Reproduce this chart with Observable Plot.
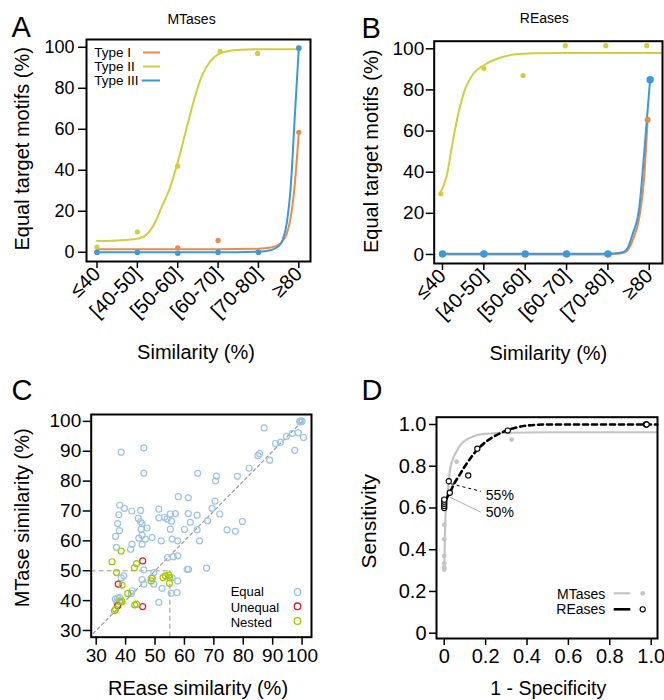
<!DOCTYPE html>
<html><head><meta charset="utf-8">
<script src="https://cdn.jsdelivr.net/npm/d3@7"></script>
<script src="https://cdn.jsdelivr.net/npm/@observablehq/plot@0.6"></script>
<style>
body{margin:0;background:#fff;}
#wrap{position:relative;width:664px;height:700px;overflow:hidden;font-family:"Liberation Sans",Arial,Helvetica,sans-serif;}
.panel{position:absolute;}
#overlay{position:absolute;left:0;top:0;}
</style></head><body><div id="wrap"></div>
<script>
const FONT = '"Liberation Sans", Arial, Helvetica, sans-serif';

// ---------- shared ----------
const simBins = ["≤40","[40-50]","[50-60]","[60-70]","[70-80]","≥80"];
const binIndex = [0,1,2,3,4,5];
const pctTicks = [0,20,40,60,80,100];
const typeNames = ["Type I","Type II","Type III"];
const typeColors = ["#ec8a4c","#d6cc3e","#3a9ad9"];

// ---------- Panel A: MTases (bin position, % equal target motifs) ----------
const aType1Pts = [[0,0],[1,0],[2,2.2],[3,5.8],[4,0],[5,58.5]];
const aType2Pts = [[0,2.5],[1,10],[2,42],[3.05,98],[3.98,97],[5,100]];
const aType3Pts = [[0,0],[1,0],[2,-0.5],[3,0],[4,0],[5,99.5]];
const aType1Fit = [[0,1.5],[1,1.5],[2,1.5],[3,1.5],[4,1.7],[4.3,2.3],[4.5,3.6],[4.6,5.5],[4.7,9],[4.8,17],[4.9,33],[5,58.5]];
const aType2Fit = [[0,5.5],[0.5,5.8],[1,6.6],[1.25,9],[1.45,15],[1.6,22],[1.8,31],[2,44],[2.2,59],[2.4,74],[2.6,86],[2.8,93],[3,96.5],[3.3,98.3],[3.7,98.9],[4,99],[5,99]];
const aType3Fit = [[0,0],[1,0],[2,0],[3,0],[4,0.3],[4.3,1],[4.5,3],[4.6,6],[4.7,14],[4.8,32],[4.9,66],[5,99.5]];

// ---------- Panel B: REases ----------
const bType1Pts = [[0,0],[1,0],[2,0],[3,0],[4,0],[4.96,65.5]];
const bType2Pts = [[-0.04,29.5],[1,90.5],[1.95,87],[2.97,101.5],[3.95,101.5],[4.94,101.5]];
const bType3Pts = [[0,0.3],[1,0.3],[2,0.3],[3,0.3],[4,0.3],[5.02,85]];
const bType1Fit = [[0,0],[1,0],[2,0],[3,0],[4,0],[4.3,0.4],[4.45,1.5],[4.6,7],[4.76,18],[4.88,38],[4.96,65.5]];
const bType2Fit = [[-0.05,30],[0.1,38],[0.25,55],[0.4,70],[0.56,81],[0.75,88],[1,92],[1.37,95.5],[1.77,97.3],[2.2,97.8],[3,98],[5.32,98]];
const bType3Fit = [[0,0.3],[1,0.3],[2,0.3],[3,0.3],[4,0.3],[4.3,0.8],[4.44,2],[4.6,10],[4.76,23],[4.88,50],[5.02,85]];

// ---------- Panel C: REase vs MTase similarity ----------
const cEqual = [[99.2,100],[99.6,100.2],[100,100],[99.4,99.8],
 [87.1,97.8],[94.7,95.0],[96.7,96.0],[98.7,96.2],[100.5,94.6],[91.0,92.6],[92.6,93.0],[97.5,90.3],[85.6,89.2],[85.0,88.5],[89.0,87.0],[82.0,84.3],[78.0,81.6],[70.9,81.7],[70.6,80.1],[64.5,82.6],[70.4,73.3],[69.4,70.9],[72.0,69.0],[67.9,66.7],[79.7,66.5],[74.5,63.7],[77.3,63.2],[67.5,50.9],
 [38.5,89.7],[46.2,91.1],[46.2,82.7],[57.9,74.8],[61.3,74.4],[38.0,72.0],[39.6,70.9],[37.7,68.7],[42.1,70.0],[45.1,70.2],[51.3,70.6],[55.2,69.0],[56.9,69.1],[61.3,69.1],[64.3,68.6],[44.3,67.5],[51.3,67.7],[53.2,67.9],[54.1,67.3],[55.6,66.6],[62.0,66.2],[45.1,66.4],[37.3,65.8],[45.6,65.8],
 [37.9,63.4],[36.6,61.5],[45.3,63.9],[47.3,64.3],[45.6,61.9],[44.5,60.9],[46.7,60.6],[49.0,61.1],[52.1,60.0],[55.8,60.6],[57.7,60.0],[60.0,63.8],[64.3,63.7],[65.1,60.0],[55.2,63.9],[42.2,58.9],[36.9,57.8],[41.7,57.2],[45.6,58.9],[54.3,54.4],[56.2,54.7],[57.7,55.0],[60.9,50.5],[61.4,50.5],[49.6,49.4],[46.2,50.3],[45.6,47.0],[39.4,48.3],[38.5,47.6],[49.0,47.7],[46.2,45.5],[49.6,45.5],[52.4,44.1],[55.5,42.5],[57.5,42.7],[57.7,46.6],[55.8,47.7],[42.2,43.3],[51.3,39.4],[41.9,42.4],[36.5,40.5],[37.3,40.8],[38.0,41.0],[38.5,40.2],[37.0,39.5],[38.0,39.8]];
const cUnequal = [[45.8,53.3],[37.5,45.5],[45.8,38.0],[37.3,38.3]];
const cNested = [[38.5,56.6],[35.4,53.0],[43.7,52.4],[43.0,51.0],[36.9,49.4],[38.8,45.2],[49.0,47.4],[48.7,46.6],[52.7,47.7],[53.5,48.3],[54.7,48.5],[55.0,47.7],[54.9,45.8],[40.7,42.4],[38.8,39.6],[43.1,38.5],[43.7,38.8],[36.2,36.6],[36.6,37.1],[38.0,39.7]];
const cGroupNames = ["Equal","Unequal","Nested"];
const cGroupColors = ["#9cc3e8","#d7202e","#a6c400"];
const cTicks = [30,40,50,60,70,80,90,100];
const cDiagonal = [29,100];
const cMtaseCut = 50, cReaseCut = 55;

// ---------- Panel D: ROC ----------
const dMtFit = [[0,0.3],[0.003,0.45],[0.006,0.56],[0.012,0.64],[0.02,0.7],[0.027,0.776],[0.04,0.83],[0.06,0.872],[0.08,0.905],[0.108,0.928],[0.14,0.943],[0.172,0.952],[0.286,0.96],[0.5,0.963],[1.03,0.963]];
const dReFit = [[0,0.6],[0.01,0.64],[0.027,0.673],[0.05,0.72],[0.075,0.76],[0.1,0.8],[0.14,0.856],[0.17,0.89],[0.205,0.92],[0.25,0.948],[0.3,0.971],[0.35,0.986],[0.4,0.995],[0.5,1.0],[1.03,1.0]];
const dMtPts = [[0,0.305],[0,0.315],[0,0.335],[0,0.37],[0,0.45],[0,0.52],[0.06,0.822],[0.326,0.928],[0.975,1.0]];
const dRePts = [[0,0.6],[0,0.61],[0,0.62],[0,0.63],[0,0.64],[0.022,0.728],[0.027,0.673],[0.116,0.756],[0.16,0.884],[0.307,0.971],[0.975,1.0],[0.978,1.0]];
const dTicks = [0,0.2,0.4,0.6,0.8,1.0];
const dCutLabels = ["55%","50%"];
const dCutFrom = [[0.032,0.716],[0.027,0.652]];
const dCutTo = [[0.177,0.68],[0.177,0.58]];
const dCutText = [[0.201,0.66],[0.201,0.576]];

const X = d => d[0], Y = d => d[1];
const wrap = document.getElementById("wrap");
function place(svg, left, top){ const d=document.createElement("div"); d.className="panel"; d.style.left=left+"px"; d.style.top=top+"px"; d.appendChild(svg); wrap.appendChild(d); }
const baseStyle = {fontFamily: FONT, background: "transparent", color: "black", overflow: "visible"};
const yTitle = (t, dx, dy, fs) => Plot.text([t], {frameAnchor: "left", dx, dy, rotate: -90, textAnchor: "middle", lineAnchor: "middle", fontSize: fs});
const xTitle = (t, dx, dy, fs) => Plot.text([t], {frameAnchor: "bottom", dx, dy, textAnchor: "middle", lineAnchor: "middle", fontSize: fs});

function sigmoidPanel(cfg){
  const fits = [cfg.fit1, cfg.fit2, cfg.fit3], pts = [cfg.pts1, cfg.pts2, cfg.pts3];
  const marks = [
    Plot.axisY({ticks: pctTicks, tickSize: 8, tickPadding: cfg.yPad, fontSize: cfg.tickFont, strokeWidth: 1.5, label: null}),
    Plot.axisX({ticks: binIndex, tickFormat: i => simBins[i], tickRotate: -45, tickSize: 7, tickPadding: 2, fontSize: cfg.xTickFont, strokeWidth: 1.5, label: null})
  ];
  for (let k = 0; k < 3; k++) marks.push(Plot.line(fits[k], {x: X, y: Y, stroke: typeColors[k], strokeWidth: 2, curve: "monotone-x"}));
  for (let k = 0; k < 3; k++) marks.push(Plot.dot(pts[k], {x: X, y: Y, fill: typeColors[k], r: cfg.r[k]}));
  marks.push(
    Plot.frame({stroke: "black", strokeWidth: 2}),
    yTitle("Equal target motifs (%)", cfg.ylab[0], cfg.ylab[1], 20),
    xTitle("Similarity (%)", cfg.xlab[0], cfg.xlab[1], 20),
    Plot.text([cfg.title], {frameAnchor: "top", dx: cfg.tpos[0], dy: cfg.tpos[1], textAnchor: "middle", lineAnchor: "middle", fontSize: 14})
  );
  return Plot.plot({
    width: 332, height: 370,
    marginLeft: cfg.m[0], marginRight: cfg.m[1], marginTop: cfg.m[2], marginBottom: cfg.m[3],
    x: {type: "linear", domain: cfg.xd}, y: {domain: cfg.yd},
    style: baseStyle, marks
  });
}

place(sigmoidPanel({title: "MTases", m: [86,22,39,109], xd: [-0.26,5.29], yd: [-4.5,103.8],
  fit1: aType1Fit, fit2: aType2Fit, fit3: aType3Fit, pts1: aType1Pts, pts2: aType2Pts, pts3: aType3Pts,
  r: [2.6,2.6,2.8], tickFont: 18, xTickFont: 20, yPad: 4, ylab: [-64.3,-1.7], xlab: [-2.5,90.7], tpos: [-7,-19.8]}), 0, 0);

place(sigmoidPanel({title: "REases", m: [101.7,2,40.7,107], xd: [-0.2,5.32], yd: [-4.4,103.7],
  fit1: bType1Fit, fit2: bType2Fit, fit3: bType3Fit, pts1: bType1Pts, pts2: bType2Pts, pts3: bType3Pts,
  r: [3,2.6,3.7], tickFont: 19, xTickFont: 20, yPad: 2, ylab: [-62.5,-1], xlab: [0,90.3], tpos: [-4,-22.4]}), 332, 0);

// Panel C
{
  const groups = [cEqual, cUnequal, cNested];
  const xd = [28.3,103.2], yd = [27.75,102.3];
  const marks = [
    Plot.axisY({ticks: cTicks, tickSize: 8, tickPadding: 2, fontSize: 19, strokeWidth: 1.5, label: null}),
    Plot.axisX({ticks: cTicks, tickSize: 8, tickPadding: 3, fontSize: 19, strokeWidth: 1.5, label: null}),
    Plot.line(cDiagonal, {x: d => d, y: d => d, stroke: "#9a9a9a", strokeWidth: 1.2, strokeDasharray: "3,3"}),
    Plot.ruleY([cMtaseCut], {x1: xd[0], x2: cReaseCut, stroke: "#bdbdbd", strokeWidth: 1.6, strokeDasharray: "5,3"}),
    Plot.ruleX([cReaseCut], {y1: yd[0], y2: cMtaseCut, stroke: "#bdbdbd", strokeWidth: 1.6, strokeDasharray: "5,3"})
  ];
  for (let k = 0; k < 3; k++) marks.push(Plot.dot(groups[k], {x: X, y: Y, stroke: cGroupColors[k], fill: "none", r: 3, strokeWidth: 1.2}));
  marks.push(
    Plot.frame({stroke: "black", strokeWidth: 2}),
    yTitle("MTase similarity (%)", -68.7, -8, 20),
    xTitle("REase similarity (%)", -3.3, 51.6, 20)
  );
  place(Plot.plot({width: 332, height: 330, marginLeft: 90.7, marginRight: 21, marginTop: 44, marginBottom: 63.3,
    x: {domain: xd}, y: {domain: yd}, style: baseStyle, marks}), 0, 370);
}

// Panel D
{
  const fmt = d => d === 0 ? "0" : d.toFixed(1);
  const marks = [
    Plot.axisY({ticks: dTicks, tickFormat: fmt, tickSize: 7, tickPadding: 3, fontSize: 20, strokeWidth: 1.5, label: null}),
    Plot.axisX({ticks: dTicks, tickFormat: fmt, tickSize: 7, tickPadding: 3, fontSize: 20, strokeWidth: 1.5, label: null}),
    Plot.line(dMtFit, {x: X, y: Y, stroke: "#c4c4c4", strokeWidth: 2.2, curve: "monotone-x"}),
    Plot.dot(dMtPts, {x: X, y: Y, fill: "#c4c4c4", r: 2.4}),
    Plot.line(dReFit, {x: X, y: Y, stroke: "black", strokeWidth: 2.6, strokeDasharray: "5,4", curve: "monotone-x"}),
    Plot.link([0], {x1: () => dCutFrom[0][0], y1: () => dCutFrom[0][1], x2: () => dCutTo[0][0], y2: () => dCutTo[0][1], stroke: "black", strokeWidth: 1, strokeDasharray: "3,3"}),
    Plot.link([1], {x1: () => dCutFrom[1][0], y1: () => dCutFrom[1][1], x2: () => dCutTo[1][0], y2: () => dCutTo[1][1], stroke: "#b0b0b0", strokeWidth: 1}),
    Plot.dot(dRePts, {x: X, y: Y, stroke: "black", fill: "white", r: 2.6, strokeWidth: 1.1}),
    Plot.text(dCutLabels, {x: (d,i) => dCutText[i][0], y: (d,i) => dCutText[i][1], textAnchor: "start", fontSize: 14}),
    Plot.frame({stroke: "black", strokeWidth: 2}),
    yTitle("Sensitivity", -67.3, -6.5, 21),
    xTitle("1 - Specificity", 1.3, 50.5, 19.5)
  ];
  place(Plot.plot({width: 332, height: 330, marginLeft: 104, marginRight: 7, marginTop: 46.7, marginBottom: 62,
    x: {domain: [-0.0373,1.0305]}, y: {domain: [-0.0254,1.035]}, style: baseStyle, marks}), 332, 370);
}

// Overlay: panel letters and legends
const NS = "http://www.w3.org/2000/svg";
const ov = document.createElementNS(NS, "svg");
ov.setAttribute("id","overlay"); ov.setAttribute("width",664); ov.setAttribute("height",700);
ov.style.fontFamily = FONT;
function add(tag, attrs, text){ const e=document.createElementNS(NS, tag); for(const k in attrs) e.setAttribute(k, attrs[k]); if(text!=null) e.textContent=text; ov.appendChild(e); return e; }
[["A",11.5,36.7],["B",361.5,38.3],["C",11.5,400],["D",361.5,400]].forEach(([t,x,y]) => add("text",{x,y,"font-size":29},t));
// legend A
typeNames.forEach((t,k) => {
  const yb = [57,71,85][k], yl = [52.5,66.5,80.5][k];
  add("text",{x:94.3,y:yb,"font-size":13.5},t);
  add("line",{x1:k===2?141.7:143,x2:160,y1:yl,y2:yl,stroke:typeColors[k],"stroke-width":2});
});
// legend C
cGroupNames.forEach((t,k) => {
  const yc = [592,606.3,621][k], yb = [596.3,611.5,626.6][k];
  add("text",{x:230.7,y:yb,"font-size":13},t);
  add("circle",{cx:297.5,cy:yc,r:3.3,fill:"none",stroke:cGroupColors[k],"stroke-width":1.3});
});
// legend D
add("text",{x:605.3,y:599.3,"font-size":14,"text-anchor":"end"},"MTases");
add("line",{x1:613.7,x2:630.3,y1:593.3,y2:593.3,stroke:"#c4c4c4","stroke-width":2.2});
add("circle",{cx:642.7,cy:593.3,r:2.4,fill:"#c4c4c4"});
add("text",{x:605.3,y:614.3,"font-size":14,"text-anchor":"end"},"REases");
add("line",{x1:613.7,x2:630.3,y1:609.3,y2:609.3,stroke:"black","stroke-width":2.6});
add("circle",{cx:642.7,cy:609.3,r:2.6,fill:"white",stroke:"black","stroke-width":1.1});
wrap.appendChild(ov);
</script></body></html>
